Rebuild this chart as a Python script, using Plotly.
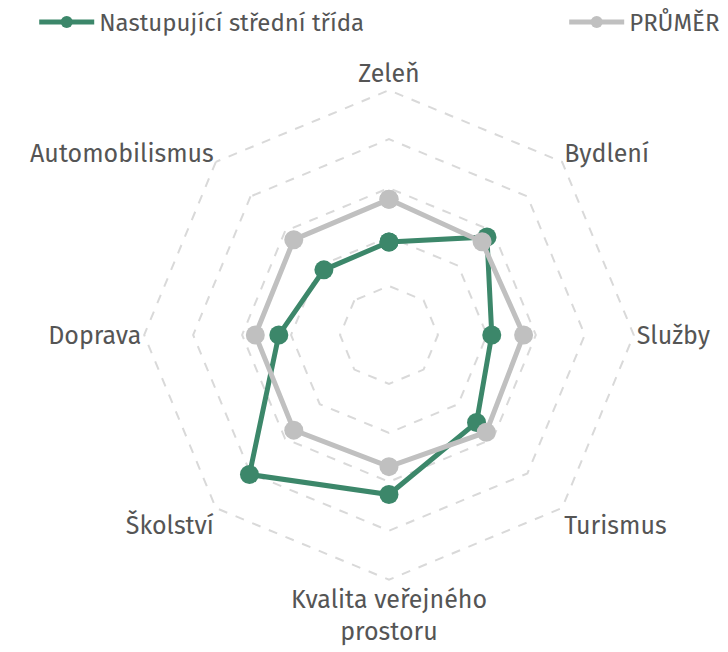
import plotly.graph_objects as go

# Axes of the radar, clockwise from the top
categories = ["Zeleň", "Bydlení", "Služby", "Turismus",
              "Kvalita veřejného<br>prostoru", "Školství", "Doprava", "Automobilismus"]

# Scores per axis
stredni_trida = [1.90, 2.83, 2.10, 2.53, 3.26, 4.03, 2.25, 1.88]
prumer = [2.77, 2.69, 2.75, 2.81, 2.69, 2.75, 2.73, 2.75]

series = [
    ("Nastupující střední třída", stredni_trida, "#3c876a", "legend"),
    ("PRŮMĚR", prumer, "#c0c0c0", "legend2"),
]

FONT = "Fira Sans, Noto Sans, sans-serif"

fig = go.Figure()
for name, values, color, legend in series:
    fig.add_trace(go.Scatterpolar(
        r=values + values[:1],
        theta=categories + categories[:1],
        name=name,
        legend=legend,
        mode="lines+markers",
        line=dict(color=color, width=5),
        marker=dict(color=color, size=19),
    ))

legend_style = dict(
    orientation="h",
    y=1.01,
    xanchor="left", yanchor="top",
    itemwidth=55,
    itemsizing="constant",
    font=dict(size=24, color="#555555", family=FONT),
    bgcolor="rgba(0,0,0,0)",
)

fig.update_layout(
    width=728,
    height=652,
    margin=dict(l=0, r=0, t=0, b=0),
    paper_bgcolor="white",
    plot_bgcolor="white",
    font=dict(family=FONT, color="#555555"),
    showlegend=True,
    legend=dict(x=0.047, **legend_style),
    legend2=dict(x=0.775, **legend_style),
    polar=dict(
        domain=dict(x=[0.1916, 0.8770], y=[0.1081, 0.8735]),
        bgcolor="white",
        gridshape="linear",
        radialaxis=dict(
            range=[0, 5.05],
            tickvals=[1, 2, 3, 4, 5],
            showticklabels=False,
            ticks="",
            showline=False,
            gridcolor="#d9d9d9",
            gridwidth=1.5,
            griddash="dash",
        ),
        angularaxis=dict(
            rotation=90,
            direction="clockwise",
            showgrid=False,
            showline=False,
            ticks="",
            tickfont=dict(size=25, color="#555555", family=FONT),
        ),
    ),
)

fig.write_html("out.html")
